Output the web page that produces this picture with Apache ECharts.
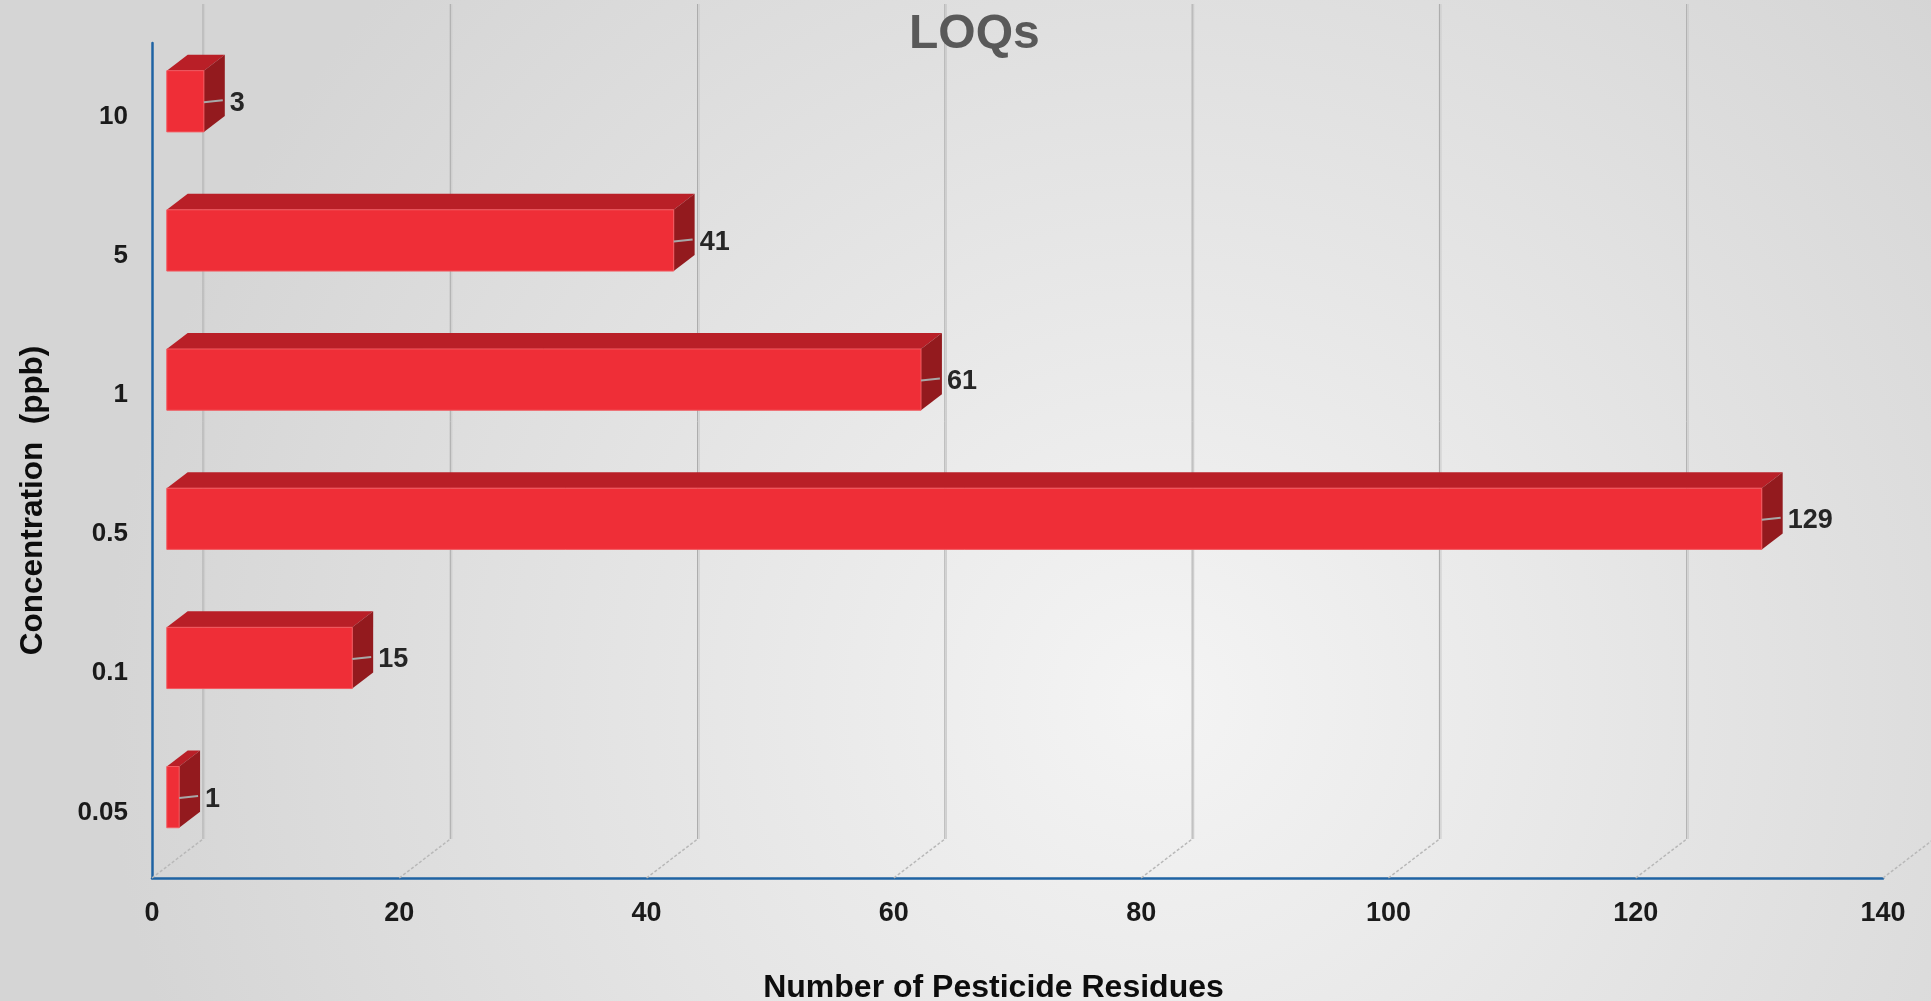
<!DOCTYPE html>
<html>
<head>
<meta charset="utf-8">
<title>LOQs</title>
<script src="https://cdn.jsdelivr.net/npm/echarts@6/dist/echarts.min.js"></script>
<style>
  html, body { margin: 0; padding: 0; overflow: hidden; }
  #chart { width: 1931px; height: 1001px; }
</style>
</head>
<body>
<div id="chart"></div>
<script>
// Concentration levels (ppb), bottom to top
const categories = ['0.05', '0.1', '0.5', '1', '5', '10'];
// Number of pesticide residues quantified at each LOQ level
const residueCounts = [1, 15, 129, 61, 41, 3];
// Value axis ticks
const xTicks = [0, 20, 40, 60, 80, 100, 120, 140];

// Oblique 3D projection: depth of the floor / back wall in pixels
const DEPTH_X = 51;
const DEPTH_Y = -39;
// Bars sit between these fractions of the depth
const BAR_FRONT = 0.29;
const BAR_BACK = 0.70;
// Bar thickness as a share of the category band
const BAR_RATIO = 0.44;

const FRONT_COLOR = '#ef2e37';
const TOP_COLOR = '#b91f27';
const SIDE_COLOR = '#931a1e';
const FONT = '"Liberation Sans", Arial, sans-serif';

function renderWall(params, api) {
  const v = api.value(0);
  const x = api.coord([v, 0])[0];
  const cs = params.coordSys;
  const top = cs.y;
  const bottom = cs.y + cs.height;
  return {
    type: 'group',
    children: [
      {
        type: 'line',
        shape: { x1: x, y1: bottom, x2: x + DEPTH_X, y2: bottom + DEPTH_Y },
        style: { stroke: '#b8b8b8', lineWidth: 1.5, lineDash: [3, 2] }
      },
      {
        type: 'line',
        shape: { x1: x + DEPTH_X, y1: bottom + DEPTH_Y, x2: x + DEPTH_X, y2: top + DEPTH_Y },
        style: { stroke: '#a9a9a9', lineWidth: 1 }
      },
      {
        type: 'line',
        shape: { x1: x + DEPTH_X + 1.5, y1: bottom + DEPTH_Y, x2: x + DEPTH_X + 1.5, y2: top + DEPTH_Y },
        style: { stroke: '#cdcdcd', lineWidth: 1.2 }
      }
    ]
  };
}

function renderBar(params, api) {
  const v = api.value(0);
  const i = api.value(1);
  const p0 = api.coord([0, i]);
  const p1 = api.coord([v, i]);
  const band = api.size([0, 1])[1];
  const h = band * BAR_RATIO;
  const fx = DEPTH_X * BAR_FRONT, fy = DEPTH_Y * BAR_FRONT;
  const bx = DEPTH_X * BAR_BACK, by = DEPTH_Y * BAR_BACK;
  const xl = p0[0], xr = p1[0], cy = p0[1];
  const t0 = cy + fy - h / 2, b0 = cy + fy + h / 2;
  const t1 = cy + by - h / 2, b1 = cy + by + h / 2;
  return {
    type: 'group',
    children: [
      {
        type: 'polygon',
        shape: { points: [[xl + fx, t0], [xr + fx, t0], [xr + bx, t1], [xl + bx, t1]] },
        style: { fill: TOP_COLOR }
      },
      {
        type: 'polygon',
        shape: { points: [[xr + fx, t0], [xr + bx, t1], [xr + bx, b1], [xr + fx, b0]] },
        style: { fill: SIDE_COLOR }
      },
      {
        type: 'rect',
        shape: { x: xl + fx, y: t0, width: xr - xl, height: h },
        style: { fill: FRONT_COLOR, stroke: '#f25a60', lineWidth: 1 }
      },
      {
        type: 'line',
        shape: { x1: xr + fx, y1: cy + fy + 1, x2: xr + bx - 2, y2: cy + fy - 1 },
        style: { stroke: '#a8a8a8', lineWidth: 2 }
      },
      {
        type: 'text',
        x: xr + bx + 5,
        y: cy + fy + 2,
        style: {
          text: String(v),
          fill: '#262626',
          font: 'bold 27px ' + FONT,
          textAlign: 'left',
          textVerticalAlign: 'middle'
        }
      }
    ]
  };
}

const chart = echarts.init(document.getElementById('chart'), null, { renderer: 'canvas' });

chart.setOption({
  animation: false,
  backgroundColor: {
    type: 'radial',
    x: 0.6, y: 0.7, r: 1.05,
    colorStops: [
      { offset: 0, color: '#f4f4f4' },
      { offset: 1, color: '#d5d5d5' }
    ]
  },
  title: {
    text: 'LOQs',
    left: 904,
    top: 6,
    textStyle: {
      color: '#595959',
      fontSize: 48,
      fontWeight: 'bold',
      fontFamily: FONT
    }
  },
  grid: {
    left: 152, right: 48, top: 43, bottom: 123,
    containLabel: false,
    outerBoundsMode: 'none'
  },
  xAxis: {
    type: 'value',
    min: 0,
    max: 140,
    interval: 20,
    name: 'Number of Pesticide Residues',
    nameLocation: 'middle',
    nameGap: 94,
    nameTextStyle: {
      color: '#0d0d0d',
      fontSize: 32,
      fontWeight: 'bold',
      fontFamily: FONT,
      padding: [0, 48, 0, 0]
    },
    axisLine: { show: true, lineStyle: { color: '#1f63a3', width: 2.5 } },
    axisTick: { show: false },
    splitLine: { show: false },
    axisLabel: {
      margin: 22,
      color: '#1a1a1a',
      fontSize: 27,
      fontWeight: 'bold',
      fontFamily: FONT,
      formatter: function (v) { return xTicks.indexOf(v) >= 0 ? String(v) : ''; }
    }
  },
  yAxis: {
    type: 'category',
    data: categories,
    name: 'Concentration  (ppb)',
    nameLocation: 'middle',
    nameGap: 103,
    nameTextStyle: {
      color: '#0d0d0d',
      fontSize: 31.5,
      fontWeight: 'bold',
      fontFamily: FONT,
      padding: [0, 80, 0, 0]
    },
    axisLine: { show: true, lineStyle: { color: '#1f63a3', width: 2.5 } },
    axisTick: { show: false },
    splitLine: { show: false },
    axisLabel: {
      margin: 24,
      color: '#1a1a1a',
      fontSize: 26,
      fontWeight: 'bold',
      fontFamily: FONT,
      verticalAlign: 'top',
      lineHeight: 8
    }
  },
  series: [
    {
      type: 'custom',
      name: 'walls',
      silent: true,
      z: 1,
      renderItem: renderWall,
      encode: { x: 0, y: 1 },
      data: xTicks.map(function (v) { return [v, 0]; })
    },
    {
      type: 'custom',
      name: 'LOQs',
      silent: true,
      z: 3,
      renderItem: renderBar,
      encode: { x: 0, y: 1 },
      data: residueCounts.map(function (v, i) { return [v, i]; })
    }
  ]
});
</script>
</body>
</html>
